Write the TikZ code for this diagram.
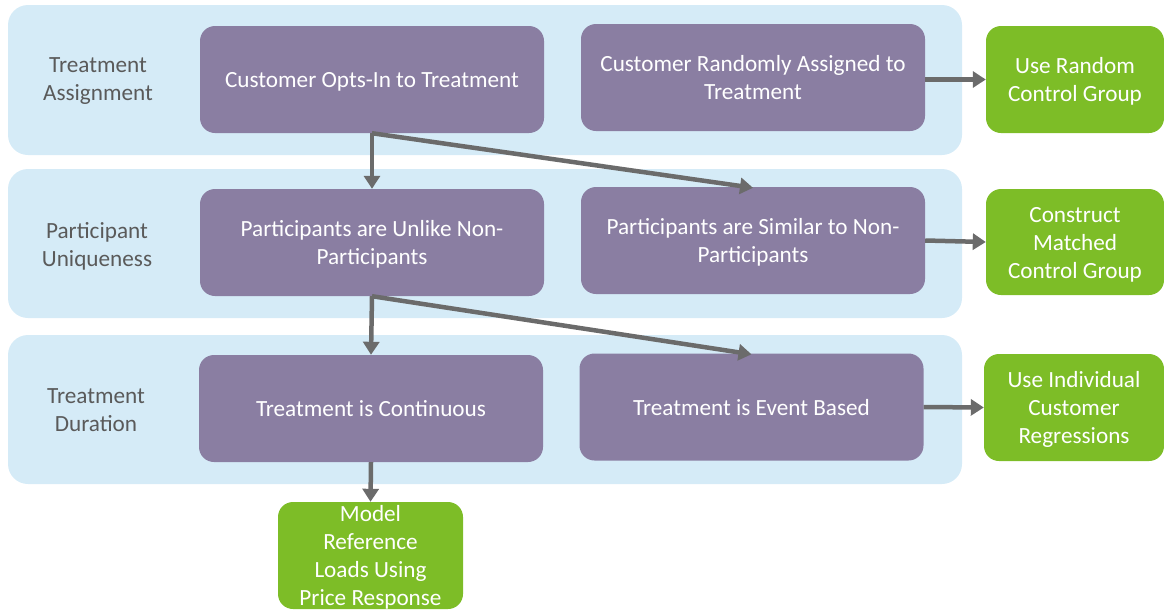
\documentclass[tikz,border=0pt]{standalone}
\usepackage{fontspec}
\setmainfont{Carlito}
\usetikzlibrary{arrows.meta}

\definecolor{bandblue}{HTML}{D5EBF7}
\definecolor{stepviolet}{HTML}{8A7EA2}
\definecolor{outgreen}{HTML}{7DBD27}
\definecolor{flowgray}{HTML}{6B6B6B}
\definecolor{labelgray}{HTML}{5A5A5A}

% centred lines of no size, so the box keeps its own height
\newcommand{\lines}[1]{\raisebox{-8.8pt}[0pt][0pt]{\begin{tabular}{@{}c@{}}#1\end{tabular}}}

\tikzset{
  band/.style={fill=bandblue, rounded corners=20pt, minimum width=954pt, minimum height=150pt},
  boxtext/.style={font=\fontsize{23.2}{28}\selectfont},
  stepbox/.style={boxtext, fill=stepviolet, rounded corners=15pt, text=white,
    minimum width=344pt, minimum height=107pt},
  outbox/.style={boxtext, fill=outgreen, rounded corners=15pt, text=white,
    minimum width=178pt, minimum height=107pt},
  rowlabel/.style={boxtext, text=labelgray},
  flow/.style={draw=flowgray, line width=4.5pt, -{Triangle[length=13pt,width=16pt]}}
}

\begin{document}
\begin{tikzpicture}[x=1pt, y=-1pt]
  \useasboundingbox (0,0) rectangle (1164,611);

  % the three stages
  \node[band] (assign) at (485,80) {};
  \node[band, minimum height=149pt] (unique) at (485,243.5) {};
  \node[band, minimum height=149pt] (duration) at (485,409.5) {};

  \node[rowlabel] (assignlbl) at (98,78) {\lines{Treatment\\Assignment}};
  \node[rowlabel] (uniquelbl) at (97,244) {\lines{Participant\\Uniqueness}};
  \node[rowlabel] (durationlbl) at (96,409) {\lines{Treatment\\Duration}};

  % choices in each stage
  \node[stepbox] (optin) at (372,79.5) {\lines{Customer Opts-In to Treatment}};
  \node[stepbox] (random) at (753,77.5) {\lines{Customer Randomly Assigned to\\Treatment}};
  \node[stepbox] (unlike) at (372,242.5) {\lines{Participants are Unlike Non-\\Participants}};
  \node[stepbox] (similar) at (753,240.5) {\lines{Participants are Similar to Non-\\Participants}};
  \node[stepbox] (contin) at (371,408.5) {\lines{Treatment is Continuous}};
  \node[stepbox] (event) at (751.5,407) {\lines{Treatment is Event Based}};

  % resulting methods
  \node[outbox] (randctrl) at (1075,79.5) {\lines{Use Random\\Control Group}};
  \node[outbox, minimum height=106pt] (matched) at (1075,242) {\lines{Construct\\Matched\\Control Group}};
  \node[outbox, minimum width=180pt] (regress) at (1074,407.5) {\lines{Use Individual\\Customer\\Regressions}};
  \node[outbox, minimum width=185pt] (refload) at (370.5,555.5) {\lines{Model\\Reference\\Loads Using\\Price Response}};

  % flow between choices
  \coordinate (split1) at (optin.south);
  \coordinate (split2) at (unlike.south);
  \draw[flow] (split1) -- (unlike.north);
  \draw[flow] (split1) -- ([yshift=-1pt]similar.north);
  \draw[flow] (split2) -- (contin.north);
  \draw[flow] (split2) -- ([yshift=-1pt]event.north);
  \draw[flow] (contin.south) -- (refload.north);
  \draw[flow] (random.east |- randctrl.west) -- (randctrl.west);
  \draw[flow] (similar.east) -- (matched.west);
  \draw[flow] (event.east) -- (regress.west);
\end{tikzpicture}
\end{document}
